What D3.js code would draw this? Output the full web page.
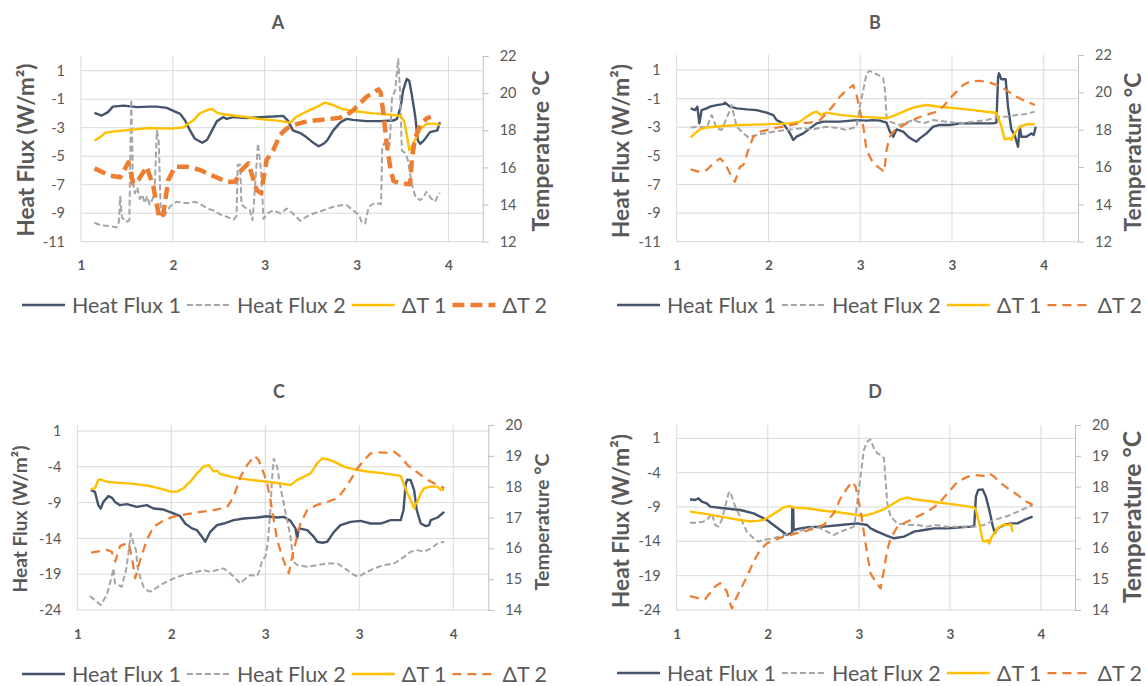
<!DOCTYPE html>
<html lang="en">
<head>
<meta charset="utf-8">
<title>Heat flux and temperature</title>
<script src="https://d3js.org/d3.v7.min.js"></script>
<style>
  body { margin: 0; background: #fff; }
  svg { display: block; font-family: Lato, "Open Sans", sans-serif; }
</style>
</head>
<body>
<svg width="1147" height="686"></svg>
<script>
// axis ticks (the x axis prints rounded values)
var xTicks = [1, 1.75, 2.5, 3.25, 4];
var xTickLabels = ["1", "2", "3", "3", "4"];
var fluxTicksAB = [1, -1, -3, -5, -7, -9, -11];
var fluxTicksCD = [1, -4, -9, -14, -19, -24];
var tempTicksAB = [22, 20, 18, 16, 14, 12];
var tempTicksCD = [20, 19, 18, 17, 16, 15, 14];
var seriesNames = ["Heat Flux 1", "Heat Flux 2", "\u0394T 1", "\u0394T 2"];

// panel A
var aFlux1 = [[1.11,-1.96],[1.17,-2.15],[1.22,-1.91],[1.26,-1.52],[1.35,-1.45],[1.46,-1.56],[1.56,-1.52],[1.62,-1.52],[1.70,-1.61],[1.75,-1.80],[1.81,-2.03],[1.85,-2.50],[1.89,-3.19],[1.93,-3.78],[1.99,-4.06],[2.03,-3.85],[2.07,-3.19],[2.11,-2.54],[2.16,-2.26],[2.19,-2.38],[2.24,-2.26],[2.35,-2.33],[2.46,-2.26],[2.57,-2.22],[2.65,-2.17],[2.69,-2.50],[2.73,-3.19],[2.79,-3.38],[2.84,-3.66],[2.90,-4.08],[2.94,-4.31],[2.98,-4.13],[3.01,-3.89],[3.06,-3.19],[3.12,-2.61],[3.17,-2.38],[3.22,-2.45],[3.33,-2.54],[3.44,-2.54],[3.55,-2.50],[3.58,-2.38],[3.61,-1.56],[3.63,-0.40],[3.66,0.42],[3.68,0.30],[3.70,-0.63],[3.73,-2.26],[3.75,-3.89],[3.77,-4.13],[3.80,-3.89],[3.85,-3.31],[3.91,-3.19],[3.93,-2.61]];
var aFlux2 = [[1.11,-9.67],[1.16,-9.85],[1.24,-9.9],[1.29,-10.0],[1.31,-9.6],[1.32,-7.84],[1.335,-9.3],[1.37,-9.6],[1.395,-9.5],[1.41,-1.0],[1.425,-6.9],[1.44,-7.6],[1.46,-7.2],[1.48,-8.0],[1.50,-7.7],[1.52,-8.3],[1.54,-7.8],[1.56,-8.4],[1.585,-8.0],[1.60,-7.5],[1.62,-3.2],[1.635,-4.0],[1.65,-8.6],[1.67,-9.36],[1.70,-8.9],[1.73,-8.5],[1.78,-8.2],[1.86,-8.3],[1.93,-8.2],[1.98,-8.4],[2.04,-8.7],[2.08,-8.8],[2.14,-9.1],[2.19,-9.25],[2.245,-9.45],[2.27,-9.2],[2.28,-5.6],[2.30,-5.6],[2.31,-8.4],[2.34,-8.6],[2.38,-8.8],[2.40,-9.5],[2.41,-8.5],[2.445,-4.1],[2.47,-6.0],[2.49,-9.4],[2.52,-9.02],[2.57,-8.79],[2.63,-9.02],[2.68,-8.67],[2.73,-9.02],[2.79,-9.53],[2.84,-9.25],[2.90,-9.02],[2.98,-8.79],[3.06,-8.55],[3.12,-8.44],[3.17,-8.44],[3.22,-8.79],[3.27,-9.14],[3.29,-9.6],[3.32,-9.72],[3.35,-8.55],[3.40,-8.27],[3.45,-8.37],[3.46,-4.36],[3.49,-3.9],[3.52,-4.24],[3.54,-0.86],[3.565,-0.4],[3.59,1.82],[3.605,-0.4],[3.62,-4.6],[3.65,-4.8],[3.67,-5.3],[3.70,-6.9],[3.73,-7.85],[3.77,-8.09],[3.80,-7.85],[3.82,-7.5],[3.86,-7.97],[3.89,-8.2],[3.91,-7.85],[3.93,-7.57]];
var aTemp1 = [[1.11,17.44],[1.155,17.62],[1.20,17.87],[1.26,17.93],[1.37,18.0],[1.56,18.12],[1.73,18.09],[1.84,18.16],[1.86,18.28],[1.92,18.55],[1.97,18.91],[2.03,19.09],[2.07,19.15],[2.11,18.95],[2.16,18.86],[2.33,18.73],[2.46,18.61],[2.60,18.52],[2.71,18.41],[2.76,18.73],[2.84,19.0],[2.93,19.27],[2.99,19.49],[3.06,19.36],[3.14,19.13],[3.22,19.04],[3.39,18.91],[3.55,18.82],[3.61,18.77],[3.64,18.46],[3.665,17.57],[3.68,16.94],[3.70,17.12],[3.73,17.51],[3.77,18.05],[3.82,18.34],[3.88,18.37],[3.93,18.28]];
var aTemp2 = [[1.11,15.95],[1.24,15.55],[1.32,15.47],[1.387,16.27],[1.427,15.14],[1.468,15.32],[1.537,16.04],[1.591,14.96],[1.64,13.26],[1.672,13.53],[1.713,15.32],[1.768,16.04],[1.864,16.04],[1.972,15.86],[2.08,15.54],[2.19,15.23],[2.258,15.23],[2.31,15.86],[2.367,16.22],[2.435,14.78],[2.47,14.61],[2.516,16.4],[2.571,16.94],[2.625,17.75],[2.68,18.1],[2.734,18.28],[2.843,18.48],[3.007,18.59],[3.115,18.68],[3.17,18.82],[3.224,19.09],[3.279,19.45],[3.333,19.81],[3.388,20.04],[3.429,20.2],[3.447,20.03],[3.469,18.91],[3.496,17.3],[3.524,16.04],[3.551,15.27],[3.605,15.14],[3.687,15.1],[3.704,16.58],[3.728,17.57],[3.769,18.28],[3.823,18.64],[3.856,18.73]];

// panel B
var bFlux1 = [[1.114,-1.68],[1.15,-1.80],[1.169,-1.56],[1.185,-2.73],[1.204,-1.80],[1.245,-1.68],[1.272,-1.56],[1.327,-1.45],[1.381,-1.38],[1.395,-1.28],[1.435,-1.56],[1.49,-1.68],[1.572,-1.75],[1.653,-1.80],[1.735,-1.98],[1.79,-2.15],[1.817,-2.5],[1.871,-2.73],[1.926,-3.43],[1.953,-3.89],[1.98,-3.66],[2.035,-3.43],[2.089,-3.08],[2.144,-2.73],[2.198,-2.61],[2.253,-2.61],[2.334,-2.61],[2.47,-2.5],[2.552,-2.54],[2.606,-2.5],[2.661,-2.54],[2.715,-2.68],[2.742,-3.31],[2.77,-3.66],[2.797,-3.15],[2.851,-3.31],[2.892,-3.66],[2.933,-3.89],[2.96,-4.01],[2.987,-3.78],[3.042,-3.43],[3.096,-2.96],[3.151,-2.84],[3.233,-2.84],[3.314,-2.73],[3.396,-2.73],[3.478,-2.73],[3.586,-2.73],[3.613,-2.68],[3.627,0.53],[3.635,0.77],[3.654,0.35],[3.689,0.35],[3.708,-1.56],[3.735,-3.15],[3.762,-3.54],[3.79,-4.36],[3.804,-2.96],[3.817,-3.66],[3.858,-3.66],[3.899,-3.43],[3.918,-3.54],[3.935,-2.96]];
var bFlux2 = [[1.114,-3.01],[1.19,-2.96],[1.245,-3.01],[1.286,-2.15],[1.327,-3.08],[1.368,-3.19],[1.435,-1.8],[1.449,-1.45],[1.49,-2.96],[1.545,-3.43],[1.586,-3.71],[1.653,-3.54],[1.79,-3.31],[1.898,-3.19],[2.007,-3.08],[2.116,-3.15],[2.225,-2.96],[2.334,-3.08],[2.389,-3.19],[2.47,-2.96],[2.497,-1.56],[2.525,-0.40],[2.552,0.77],[2.579,0.95],[2.606,0.81],[2.647,0.65],[2.688,0.42],[2.702,-0.40],[2.715,-2.26],[2.742,-2.61],[2.824,-2.84],[2.933,-2.5],[3.015,-2.73],[3.096,-2.5],[3.205,-2.61],[3.314,-2.73],[3.423,-2.61],[3.532,-2.5],[3.641,-2.26],[3.695,-2.26],[3.777,-2.15],[3.858,-2.08],[3.927,-1.91]];
var bTemp1 = [[1.114,17.59],[1.15,17.8],[1.19,18.02],[1.245,18.12],[1.381,18.2],[1.517,18.25],[1.79,18.3],[1.926,18.34],[2.007,18.43],[2.062,18.7],[2.116,18.91],[2.144,18.96],[2.18,18.79],[2.225,18.91],[2.334,18.79],[2.47,18.7],[2.606,18.66],[2.715,18.61],[2.824,18.87],[2.879,19.05],[2.96,19.23],[3.042,19.32],[3.151,19.23],[3.287,19.14],[3.423,19.05],[3.532,18.96],[3.613,18.91],[3.654,18.16],[3.681,17.48],[3.722,17.55],[3.735,17.45],[3.762,17.8],[3.804,18.16],[3.858,18.29],[3.927,18.3]];
var bTemp2 = [[1.114,15.87],[1.177,15.75],[1.245,15.84],[1.3,16.2],[1.354,16.46],[1.395,16.2],[1.435,15.66],[1.476,15.21],[1.517,16.02],[1.545,16.11],[1.585,16.91],[1.626,17.62],[1.681,17.89],[1.79,18.07],[1.898,18.2],[2.007,18.34],[2.089,18.38],[2.171,18.52],[2.225,18.87],[2.28,19.3],[2.334,19.77],[2.389,20.12],[2.443,20.39],[2.47,19.86],[2.497,19.05],[2.525,18.16],[2.552,16.91],[2.606,16.2],[2.661,15.93],[2.697,15.75],[2.715,16.91],[2.742,17.62],[2.77,17.89],[2.824,18.12],[2.879,18.34],[2.96,18.61],[3.042,18.79],[3.123,18.96],[3.178,19.23],[3.233,19.68],[3.287,20.04],[3.341,20.39],[3.396,20.57],[3.478,20.62],[3.559,20.52],[3.641,20.34],[3.695,20.12],[3.749,19.86],[3.831,19.59],[3.927,19.32]];

// panel C
var cFlux1 = [[1.107,-7.27],[1.141,-7.5],[1.168,-9.36],[1.187,-9.83],[1.208,-8.9],[1.248,-8.1],[1.275,-8.29],[1.301,-8.9],[1.341,-9.36],[1.395,-9.22],[1.475,-9.6],[1.555,-9.36],[1.608,-9.83],[1.688,-9.97],[1.768,-10.52],[1.821,-10.9],[1.861,-11.92],[1.915,-12.6],[1.955,-12.85],[1.995,-13.78],[2.021,-14.47],[2.061,-13.08],[2.115,-12.15],[2.168,-11.92],[2.248,-11.45],[2.328,-11.22],[2.435,-11.08],[2.515,-10.9],[2.595,-11.08],[2.648,-10.99],[2.701,-11.55],[2.741,-12.6],[2.755,-14.0],[2.768,-12.6],[2.835,-12.85],[2.888,-13.78],[2.915,-14.47],[2.955,-14.61],[2.995,-14.47],[3.048,-13.08],[3.101,-12.15],[3.181,-11.69],[3.261,-11.55],[3.341,-11.92],[3.421,-11.92],[3.501,-11.45],[3.581,-11.45],[3.603,-10.06],[3.621,-6.34],[3.635,-5.78],[3.661,-5.88],[3.688,-7.27],[3.709,-10.06],[3.741,-11.92],[3.781,-12.29],[3.808,-12.15],[3.821,-11.45],[3.875,-11.08],[3.928,-10.29]];
var cFlux2 = [[1.101,-22.05],[1.155,-22.84],[1.187,-23.3],[1.235,-21.91],[1.275,-19.35],[1.288,-18.19],[1.301,-20.28],[1.328,-20.52],[1.355,-20.75],[1.368,-19.82],[1.389,-18.42],[1.408,-16.1],[1.427,-13.31],[1.448,-14.71],[1.469,-15.64],[1.48,-17.96],[1.501,-19.35],[1.528,-20.75],[1.555,-21.21],[1.581,-21.44],[1.608,-21.21],[1.661,-20.52],[1.715,-20.05],[1.768,-19.59],[1.848,-19.12],[1.928,-18.8],[2.008,-18.42],[2.061,-18.66],[2.115,-18.42],[2.168,-18.19],[2.221,-18.89],[2.275,-19.82],[2.301,-20.28],[2.328,-19.82],[2.381,-19.12],[2.435,-19.26],[2.456,-18.42],[2.475,-17.03],[2.501,-16.57],[2.52,-14.71],[2.541,-10.06],[2.555,-5.41],[2.568,-2.86],[2.581,-3.55],[2.595,-4.02],[2.621,-6.81],[2.648,-9.13],[2.675,-11.45],[2.701,-13.78],[2.715,-15.64],[2.728,-17.26],[2.755,-17.73],[2.835,-17.96],[2.915,-17.73],[2.995,-17.5],[3.075,-17.5],[3.155,-18.42],[3.208,-19.12],[3.248,-19.35],[3.288,-18.89],[3.368,-18.19],[3.448,-17.73],[3.528,-17.5],[3.608,-16.57],[3.661,-15.87],[3.715,-15.64],[3.768,-15.87],[3.821,-15.4],[3.875,-14.71],[3.928,-14.47]];
var cTemp1 = [[1.107,17.91],[1.141,17.95],[1.168,18.22],[1.181,18.24],[1.235,18.16],[1.315,18.13],[1.448,18.09],[1.581,18.02],[1.688,17.91],[1.741,17.84],[1.795,17.84],[1.848,17.95],[1.901,18.16],[1.955,18.43],[2.008,18.65],[2.048,18.70],[2.088,18.49],[2.115,18.52],[2.141,18.41],[2.248,18.3],[2.381,18.22],[2.515,18.16],[2.648,18.09],[2.701,18.05],[2.755,18.22],[2.808,18.32],[2.861,18.43],[2.888,18.59],[2.915,18.76],[2.955,18.92],[2.995,18.89],[3.048,18.81],[3.128,18.65],[3.208,18.56],[3.315,18.49],[3.448,18.43],[3.581,18.35],[3.603,18.11],[3.635,17.78],[3.661,17.57],[3.688,17.3],[3.701,17.46],[3.715,17.51],[3.741,17.78],[3.768,17.95],[3.821,18.0],[3.875,18.0],[3.901,17.89],[3.928,17.91]];
var cTemp2 = [[1.11,15.86],[1.235,15.95],[1.275,15.89],[1.302,15.57],[1.342,16.08],[1.408,16.18],[1.435,15.73],[1.462,15.03],[1.502,15.62],[1.555,16.27],[1.608,16.70],[1.688,16.9],[1.768,17.03],[1.875,17.11],[1.982,17.18],[2.088,17.24],[2.195,17.33],[2.248,17.67],[2.302,18.32],[2.355,18.7],[2.414,19.0],[2.448,18.86],[2.488,18.43],[2.515,18.11],[2.541,17.57],[2.568,16.92],[2.595,16.27],[2.635,15.73],[2.675,15.3],[2.688,15.19],[2.715,15.73],[2.741,16.16],[2.781,16.81],[2.835,17.24],[2.915,17.41],[2.995,17.51],[3.075,17.62],[3.128,17.89],[3.181,18.22],[3.235,18.59],[3.288,18.86],[3.341,19.08],[3.408,19.11],[3.475,19.1],[3.528,19.14],[3.581,18.97],[3.635,18.7],[3.688,18.54],[3.741,18.38],[3.795,18.22],[3.848,18.11],[3.901,18.02],[3.928,17.95]];

// panel D
var dFlux1 = [[1.11,-7.88],[1.151,-7.98],[1.179,-7.74],[1.206,-8.22],[1.248,-8.47],[1.275,-8.95],[1.385,-9.19],[1.523,-9.44],[1.633,-9.92],[1.688,-10.41],[1.743,-10.89],[1.798,-11.62],[1.853,-12.35],[1.908,-13.08],[1.936,-12.83],[1.949,-12.8],[1.952,-9.19],[1.96,-9.3],[1.963,-12.35],[2.018,-12.11],[2.073,-11.96],[2.211,-11.86],[2.349,-11.62],[2.486,-11.38],[2.569,-11.62],[2.597,-12.11],[2.652,-12.59],[2.734,-13.22],[2.789,-13.56],[2.872,-13.32],[2.899,-13.08],[2.954,-12.59],[3.037,-12.35],[3.119,-12.11],[3.229,-12.11],[3.339,-11.96],[3.422,-11.86],[3.45,-11.77],[3.464,-7.49],[3.483,-6.52],[3.519,-6.43],[3.546,-7.49],[3.574,-9.44],[3.601,-11.62],[3.62,-12.83],[3.642,-12.11],[3.697,-11.62],[3.752,-11.38],[3.807,-11.38],[3.862,-10.89],[3.931,-10.41]];
var dFlux2 = [[1.11,-11.28],[1.165,-11.28],[1.22,-11.14],[1.261,-10.65],[1.289,-9.92],[1.316,-11.62],[1.344,-11.86],[1.371,-10.89],[1.399,-8.95],[1.427,-7.0],[1.44,-6.77],[1.454,-7.49],[1.482,-8.95],[1.523,-10.41],[1.551,-11.62],[1.578,-12.59],[1.633,-13.56],[1.674,-14.05],[1.716,-13.8],[1.798,-13.56],[1.881,-13.08],[1.963,-12.83],[2.018,-12.45],[2.073,-12.25],[2.129,-11.86],[2.184,-12.11],[2.239,-12.59],[2.294,-13.08],[2.349,-12.59],[2.404,-12.25],[2.459,-11.86],[2.473,-10.41],[2.486,-8.47],[2.514,-4.58],[2.541,-0.70],[2.569,0.51],[2.596,0.85],[2.624,-0.46],[2.652,-1.18],[2.679,-1.43],[2.707,-1.91],[2.734,-8.47],[2.762,-10.41],[2.817,-11.38],[2.899,-11.62],[2.982,-11.62],[3.064,-11.86],[3.119,-11.62],[3.23,-11.86],[3.34,-11.86],[3.45,-11.86],[3.532,-11.62],[3.615,-10.89],[3.725,-10.31],[3.808,-9.68],[3.89,-9.05],[3.931,-8.71]];
var dTemp1 = [[1.11,17.19],[1.248,17.11],[1.385,17.01],[1.523,16.92],[1.606,16.87],[1.661,16.89],[1.716,16.92],[1.771,17.05],[1.826,17.19],[1.881,17.33],[1.922,17.37],[1.949,17.35],[1.963,17.32],[2.073,17.3],[2.211,17.22],[2.349,17.16],[2.486,17.08],[2.541,17.05],[2.624,17.14],[2.707,17.27],[2.789,17.46],[2.844,17.59],[2.899,17.65],[2.954,17.59],[3.037,17.55],[3.174,17.48],[3.312,17.41],[3.45,17.33],[3.464,17.24],[3.491,16.81],[3.519,16.27],[3.532,16.22],[3.56,16.27],[3.574,16.16],[3.587,16.32],[3.615,16.49],[3.642,16.65],[3.683,16.76],[3.725,16.76],[3.752,16.78],[3.766,16.54]];
var dTemp2 = [[1.11,14.45],[1.179,14.38],[1.234,14.35],[1.261,14.49],[1.289,14.6],[1.316,14.76],[1.358,14.87],[1.385,14.76],[1.413,14.6],[1.435,14.27],[1.454,14.05],[1.482,14.32],[1.523,14.65],[1.578,15.08],[1.633,15.57],[1.688,15.95],[1.743,16.16],[1.798,16.25],[1.881,16.38],[1.991,16.49],[2.073,16.57],[2.211,16.76],[2.294,17.14],[2.349,17.62],[2.404,17.95],[2.445,18.16],[2.473,18.0],[2.514,17.24],[2.555,16.16],[2.596,15.19],[2.638,14.92],[2.679,14.7],[2.707,15.3],[2.734,15.95],[2.762,16.32],[2.817,16.7],[2.899,16.87],[2.982,17.03],[3.064,17.19],[3.147,17.41],[3.23,17.78],[3.312,18.16],[3.395,18.32],[3.45,18.38],[3.532,18.35],[3.573,18.43],[3.615,18.32],[3.67,18.11],[3.725,17.95],[3.808,17.73],[3.862,17.55],[3.931,17.41]];

var textColor = "#595959";
var styles = [
  {color: "#44546A", width: 2.4, dash: null, axis: "flux"},
  {color: "#A5A5A5", width: 2, dash: "6,3", axis: "flux"},
  {color: "#FFC000", width: 2.4, dash: null, axis: "temp"},
  {color: "#ED7D31", width: 2.25, dash: "9,6", axis: "temp"}
];

// lTitle/rTitle: [centre x, centre y, wanted length]
var panels = [
  {name: "A", left: 81, right: 482.7, top: 56, bottom: 241.7, titleX: 278, titleY: 22,
   flux: [-11, 2.03], temp: [12, 22], fluxTicks: fluxTicksAB, tempTicks: tempTicksAB,
   lTitle: [25, 150, 173], rTitle: [540, 151, 161], legendX: 22, legendY: 305,
   thickDash: true, series: [aFlux1, aFlux2, aTemp1, aTemp2]},
  {name: "B", left: 676.7, right: 1078, top: 55, bottom: 241.7, titleX: 875, titleY: 22,
   flux: [-11, 2.05], temp: [12, 22], fluxTicks: fluxTicksAB, tempTicks: tempTicksAB,
   lTitle: [620, 151, 174], rTitle: [1132, 152, 159], legendX: 617, legendY: 305,
   thickDash: false, series: [bFlux1, bFlux2, bTemp1, bTemp2]},
  {name: "C", left: 77.3, right: 488.3, top: 425, bottom: 610, titleX: 279, titleY: 391,
   flux: [-24, 1.84], temp: [14, 20], fluxTicks: fluxTicksCD, tempTicks: tempTicksCD,
   lTitle: [19.5, 519, 147], rTitle: [541.5, 522, 137], legendX: 22, legendY: 674,
   thickDash: false, series: [cFlux1, cFlux2, cTemp1, cTemp2]},
  {name: "D", left: 676.7, right: 1075, top: 425, bottom: 610, titleX: 875, titleY: 391,
   flux: [-24, 2.94], temp: [14, 20], fluxTicks: fluxTicksCD, tempTicks: tempTicksCD,
   lTitle: [620, 521, 174], rTitle: [1131, 517, 172], legendX: 617, legendY: 673,
   thickDash: false, series: [dFlux1, dFlux2, dTemp1, dTemp2]}
];

var svg = d3.select("svg");

// size a text node so that it takes the wanted length
function fitText(sel, len) {
  sel.attr("font-size", 20);
  var w = sel.node().getComputedTextLength();
  sel.attr("font-size", 20 * len / w);
}

function drawPanel(p) {
  var g = svg.append("g").attr("class", "panel-" + p.name);
  var x = d3.scaleLinear().domain([1, 4.28]).range([p.left, p.right]);
  var yL = d3.scaleLinear().domain(p.flux).range([p.bottom, p.top]);
  var yR = d3.scaleLinear().domain(p.temp).range([p.bottom, p.top]);

  // gridlines
  g.selectAll(".vgrid").data(xTicks).enter().append("line")
    .attr("x1", function(d) { return x(d); }).attr("x2", function(d) { return x(d); })
    .attr("y1", p.top).attr("y2", p.bottom)
    .attr("stroke", "#d9d9d9").attr("stroke-width", 1);
  g.selectAll(".hgrid").data(p.fluxTicks).enter().append("line")
    .attr("x1", p.left).attr("x2", p.right)
    .attr("y1", function(d) { return yL(d); }).attr("y2", function(d) { return yL(d); })
    .attr("stroke", "#d9d9d9").attr("stroke-width", 1);

  // left axis labels (plain hyphen for minus)
  var left = g.append("g").attr("transform", "translate(" + p.left + ",0)")
    .call(d3.axisLeft(yL).tickValues(p.fluxTicks).tickSize(0).tickPadding(16)
      .tickFormat(function(d) { return String(d); }));
  left.select(".domain").remove();

  // right axis with outside ticks
  var right = g.append("g").attr("transform", "translate(" + p.right + ",0)")
    .call(d3.axisRight(yR).tickValues(p.tempTicks).tickSize(6).tickPadding(11).tickSizeOuter(0)
      .tickFormat(function(d) { return String(d); }));
  right.select(".domain").attr("stroke", "#bfbfbf");
  right.selectAll(".tick line").attr("stroke", "#bfbfbf");

  // bottom labels
  var bottom = g.append("g").attr("transform", "translate(0," + p.bottom + ")")
    .call(d3.axisBottom(x).tickValues(xTicks).tickSize(0).tickPadding(19)
      .tickFormat(function(d, i) { return xTickLabels[i]; }));
  bottom.select(".domain").remove();
  bottom.selectAll("text").attr("font-weight", "bold").attr("font-size", 13.5);

  g.selectAll(".tick text").attr("fill", textColor).attr("font-family", "Lato, sans-serif");
  left.selectAll("text").attr("font-size", 14.5);
  right.selectAll("text").attr("font-size", 14.5);

  // series
  p.series.forEach(function(data, i) {
    var s = styles[i];
    var yS = s.axis === "flux" ? yL : yR;
    var line = d3.line().x(function(d) { return x(d[0]); }).y(function(d) { return yS(d[1]); });
    var path = g.append("path").datum(data)
      .attr("d", line).attr("fill", "none")
      .attr("stroke", s.color).attr("stroke-width", s.width)
      .attr("stroke-linejoin", "round");
    if (s.dash) path.attr("stroke-dasharray", s.dash);
    if (i === 3 && p.thickDash) path.attr("stroke-width", 4.5).attr("stroke-dasharray", "12,6");
  });

  // titles
  g.append("text").attr("x", p.titleX).attr("y", p.titleY)
    .attr("text-anchor", "middle").attr("dominant-baseline", "central")
    .attr("font-weight", "bold").attr("font-size", 18).attr("fill", textColor)
    .text(p.name);
  var lt = g.append("text")
    .attr("transform", "translate(" + p.lTitle[0] + "," + p.lTitle[1] + ") rotate(-90)")
    .attr("text-anchor", "middle").attr("dominant-baseline", "central")
    .attr("font-weight", "bold").attr("fill", textColor)
    .text("Heat Flux (W/m\u00b2)");
  fitText(lt, p.lTitle[2]);
  var rt = g.append("text")
    .attr("transform", "translate(" + p.rTitle[0] + "," + p.rTitle[1] + ") rotate(-90)")
    .attr("text-anchor", "middle").attr("dominant-baseline", "central")
    .attr("font-weight", "bold").attr("fill", textColor)
    .text("Temperature \u00b0C");
  fitText(rt, p.rTitle[2]);

  // legend
  var lx = p.legendX;
  seriesNames.forEach(function(name, i) {
    var s = styles[i];
    var ln = g.append("line").attr("x1", lx).attr("x2", lx + 43)
      .attr("y1", p.legendY).attr("y2", p.legendY)
      .attr("stroke", s.color).attr("stroke-width", s.width);
    if (s.dash) ln.attr("stroke-dasharray", s.dash);
    if (i === 3 && p.thickDash) ln.attr("stroke-width", 4.5).attr("stroke-dasharray", "12,6");
    var t = g.append("text").attr("x", lx + 50).attr("y", p.legendY)
      .attr("dominant-baseline", "central").attr("font-size", 21.5).attr("fill", textColor)
      .text(name);
    lx = lx + 50 + t.node().getComputedTextLength() + 6;
  });
}

panels.forEach(drawPanel);
</script>
</body>
</html>
